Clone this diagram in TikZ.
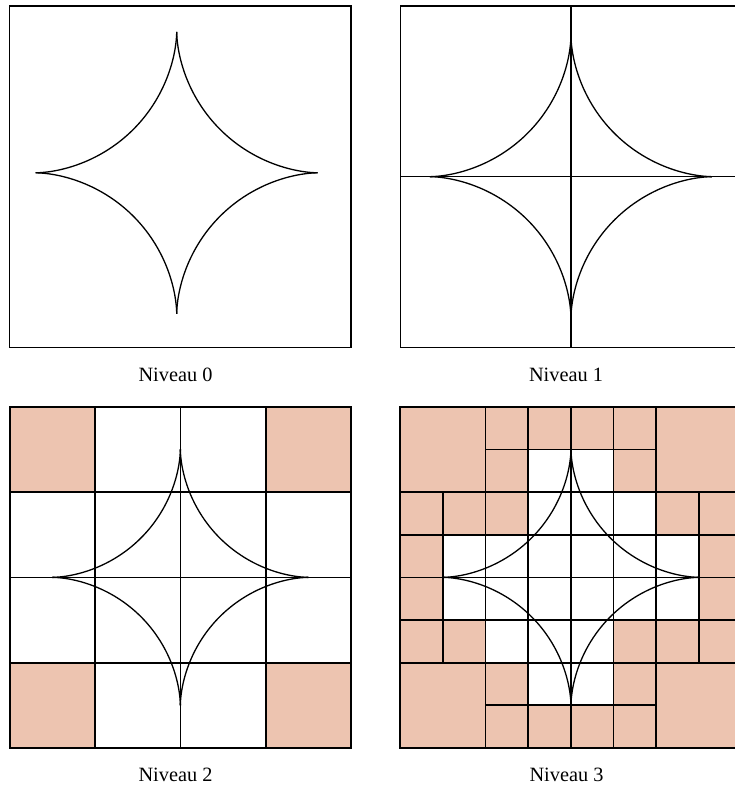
\documentclass[tikz,border=0pt]{standalone}
\usepackage{fontspec}
\setmainfont{Liberation Serif}
\definecolor{peach}{RGB}{237,196,176}
\newcommand{\astroid}[3]{% cx, cy, R : four-cusped star
  \foreach \sx/\sy in {1/1,-1/1,-1/-1,1/-1}
    \draw[curve,shift={(#1,#2)},xscale=\sx,yscale=\sy]
      plot[variable=\t,domain=0:90,samples=361]
      ({#3*pow(cos(\t),3.4)},{#3*pow(sin(\t),3.4)});
}
\begin{document}
\begin{tikzpicture}[x=1pt,y=-1pt,
  frame/.style={draw=black,line width=1.3pt},
  gridline/.style={draw=black,line width=1.7pt},
  curve/.style={draw=black,line width=1.3pt},
  cellfill/.style={fill=peach},
  lbl/.style={anchor=base,font=\fontsize{20.3}{24}\selectfont,inner sep=0pt}]
\useasboundingbox (0,0) rectangle (734,787);
\fill[white] (0,0) rectangle (734,787);
\def\S{341.3}
\def\cw{42.6625}
% ---------- Niveau 0 ----------
\begin{scope}[shift={(9.7,6)}]
  \draw[frame] (0,0) rectangle (\S,\S);
  \astroid{167}{166.8}{141}
\end{scope}
\node[lbl] (l0) at (175.5,381) {Niveau 0};
% ---------- Niveau 1 ----------
\begin{scope}[shift={(400.3,6)}]
  \draw[frame] (0,0) rectangle (\S,\S);
  \draw[frame] (170.65,0) -- (170.65,\S) (0,170.65) -- (\S,170.65);
  \astroid{170.65}{170.65}{141}
\end{scope}
\node[lbl] (l1) at (566,381) {Niveau 1};
% ---------- Niveau 2 ----------
\begin{scope}[shift={(9.7,406.7)}]
  \foreach \i/\j in {0/0,3/0,0/3,3/3}
    \fill[cellfill] ({\i*85.325},{\j*85.325}) rectangle ++(85.325,85.325);
  \foreach \k in {1,2,3} {
    \draw[gridline] ({\k*85.325},0) -- ({\k*85.325},\S);
    \draw[gridline] (0,{\k*85.325}) -- (\S,{\k*85.325});
  }
  \draw[gridline] (0,0) rectangle (\S,\S);
  \astroid{170.65}{170.65}{128}
\end{scope}
\node[lbl] (l2) at (175.5,781) {Niveau 2};
% ---------- Niveau 3 ----------
\begin{scope}[shift={(400.3,406.7)}]
  \foreach \i/\j in {0/0,6/0,0/6,6/6}
    \fill[cellfill] ({\i*\cw},{\j*\cw}) rectangle ++({2*\cw},{2*\cw});
  \foreach \i/\j in {2/0,3/0,4/0,5/0, 2/1,5/1, 0/2,1/2,2/2,6/2,7/2,
                     0/3,7/3, 0/4,7/4, 0/5,1/5,5/5,6/5,7/5, 2/6,5/6, 2/7,3/7,4/7,5/7}
    \fill[cellfill] ({\i*\cw},{\j*\cw}) rectangle ++(\cw,\cw);
  \foreach \k in {2,3,4,5,6} {
    \draw[gridline] ({\k*\cw},0) -- ({\k*\cw},\S);
    \draw[gridline] (0,{\k*\cw}) -- (\S,{\k*\cw});
  }
  \foreach \k in {1,7} {
    \draw[gridline] ({\k*\cw},{2*\cw}) -- ({\k*\cw},{6*\cw});
    \draw[gridline] ({2*\cw},{\k*\cw}) -- ({6*\cw},{\k*\cw});
  }
  \draw[gridline] (0,0) rectangle (\S,\S);
  \astroid{170.65}{170.65}{128}
\end{scope}
\node[lbl] (l3) at (566.5,781) {Niveau 3};
\end{tikzpicture}
\end{document}
